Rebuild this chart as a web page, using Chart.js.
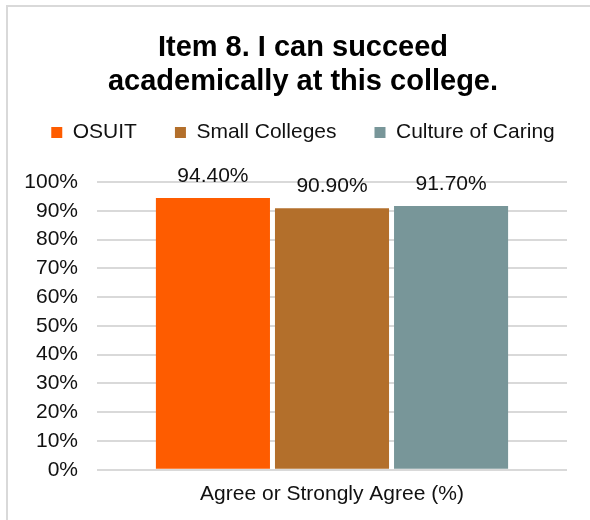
<!DOCTYPE html>
<html>
<head>
<meta charset="utf-8">
<script src="https://cdn.jsdelivr.net/npm/chart.js@4.4.1/dist/chart.umd.min.js"></script>
<style>
  html, body { margin: 0; padding: 0; background: #fff; overflow: hidden; }
  body { width: 590px; height: 520px; position: relative; }
  #frame {
    position: absolute; left: 6px; top: 5px; width: 600px; height: 600px;
    border-top: 2px solid #d9d9d9; border-left: 2px solid #d9d9d9;
  }
  #box { position: absolute; left: 6px; top: 0; width: 594px; height: 520px; }
  #myChart { display: block; }
</style>
</head>
<body>
<div id="frame"></div>
<div id="box"><canvas id="myChart" width="594" height="520"></canvas></div>
<script>
const categories = ["Agree or Strongly Agree (%)"];
const seriesNames = ["OSUIT", "Small Colleges", "Culture of Caring"];
const osuit = [94.4];
const smallColleges = [90.9];
const cultureOfCaring = [91.7];
const yTicks = [0, 10, 20, 30, 40, 50, 60, 70, 80, 90, 100];
const colors = ["#fe5c00", "#b36f2b", "#789699"];

const font = "'Liberation Sans', Arial, sans-serif";

// value labels over each bar
const barLabels = {
  id: "barLabels",
  afterDatasetsDraw(chart) {
    const ctx = chart.ctx;
    ctx.save();
    ctx.font = "21px " + font;
    ctx.fillStyle = "#111";
    ctx.textAlign = "center";
    ctx.textBaseline = "middle";
    chart.data.datasets.forEach((ds, i) => {
      chart.getDatasetMeta(i).data.forEach((bar, j) => {
        ctx.fillText(ds.data[j].toFixed(2) + "%", bar.x, bar.y - 22);
      });
    });
    ctx.restore();
  }
};

// room between legend and plot
const legendGap = {
  id: "legendGap",
  beforeInit(chart) {
    const fit = chart.legend.fit;
    chart.legend.fit = function () {
      fit.bind(chart.legend)();
      this.height += 29;
    };
  }
};

const ctx = document.getElementById("myChart");
new Chart(ctx, {
  type: "bar",
  data: {
    labels: categories,
    datasets: [
      { label: seriesNames[0], data: osuit, backgroundColor: colors[0] },
      { label: seriesNames[1], data: smallColleges, backgroundColor: colors[1] },
      { label: seriesNames[2], data: cultureOfCaring, backgroundColor: colors[2] }
    ]
  },
  options: {
    responsive: false,
    animation: false,
    devicePixelRatio: 1,
    categoryPercentage: 0.76,
    barPercentage: 0.958,
    layout: { padding: { top: 0, left: 0, right: 0, bottom: 1 } },
    plugins: {
      title: {
        display: true,
        text: ["Item 8. I can succeed", "academically at this college."],
        color: "#000",
        font: { family: font, size: 29, weight: "bold", lineHeight: 34 / 29 },
        padding: { top: 31, bottom: -15 }
      },
      legend: {
        labels: {
          color: "#111",
          font: { family: font, size: 21 },
          boxWidth: 11,
          boxHeight: 11,
          padding: 38
        }
      },
      tooltip: { enabled: false }
    },
    scales: {
      x: {
        grid: { display: false, drawTicks: false },
        border: { display: false },
        ticks: { color: "#111", font: { family: font, size: 21 }, padding: 12 }
      },
      y: {
        min: 0,
        max: 100,
        afterFit(s) { s.width = 91; },
        afterBuildTicks(s) { s.ticks = yTicks.map(v => ({ value: v })); },
        grid: { color: "#d9d9d9", lineWidth: 2, drawTicks: false },
        border: { display: false },
        ticks: {
          color: "#111",
          font: { family: font, size: 21 },
          padding: 19,
          autoSkip: false,
          callback: v => v + "%"
        }
      },
      yRight: {
        position: "right",
        afterFit(s) { s.width = 33; },
        grid: { display: false },
        border: { display: false },
        ticks: { display: false }
      }
    }
  },
  plugins: [barLabels, legendGap]
});
</script>
</body>
</html>
